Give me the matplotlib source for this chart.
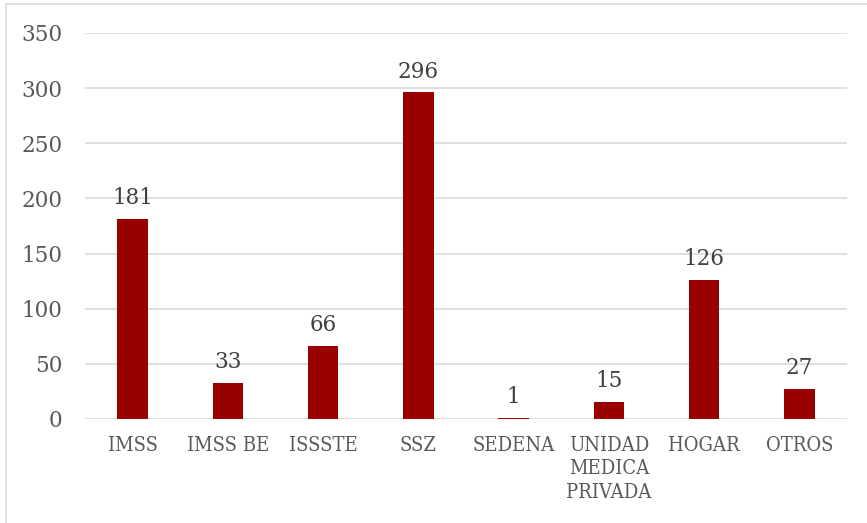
import matplotlib.pyplot as plt
from matplotlib.patches import Rectangle

# datos
categorias = ['IMSS', 'IMSS BE', 'ISSSTE', 'SSZ', 'SEDENA',
              'UNIDAD\nMEDICA\nPRIVADA', 'HOGAR', 'OTROS']
valores = [181, 33, 66, 296, 1, 15, 126, 27]
yticks = [0, 50, 100, 150, 200, 250, 300, 350]

plt.rcParams['font.family'] = ['DejaVu Serif']

fig = plt.figure(figsize=(8.67, 5.23), dpi=100)
ax = fig.add_axes([0.098, 0.199, 0.879, 0.738])

x = range(len(categorias))
bars = ax.bar(x, valores, width=0.32, color='#9B0000', zorder=3)

# etiquetas de datos
for xi, v in zip(x, valores):
    ax.text(xi, v + 9, str(v), ha='center', va='bottom', fontsize=15.5, color='#404040')

ax.set_ylim(0, 350)
ax.set_xlim(-0.5, len(categorias) - 0.5)
ax.set_yticks(yticks)
ax.set_xticks(list(x))
ax.set_xticklabels(categorias, fontsize=14.5, fontstretch='condensed',
                   color='#595959', linespacing=1.3)
ax.tick_params(axis='y', labelsize=15.5, labelcolor='#595959', length=0, pad=16)
ax.tick_params(axis='x', length=0, pad=12)
ax.grid(axis='y', color='#D9D9D9', linewidth=1.2, zorder=0)
for s in ax.spines.values():
    s.set_visible(False)

# borde del grafico
fig.patches.append(Rectangle((0.007, -0.02), 1.1, 1.012, transform=fig.transFigure,
                             fill=False, edgecolor='#D9D9D9', linewidth=1.2))

fig.savefig('out.png', dpi=100)
